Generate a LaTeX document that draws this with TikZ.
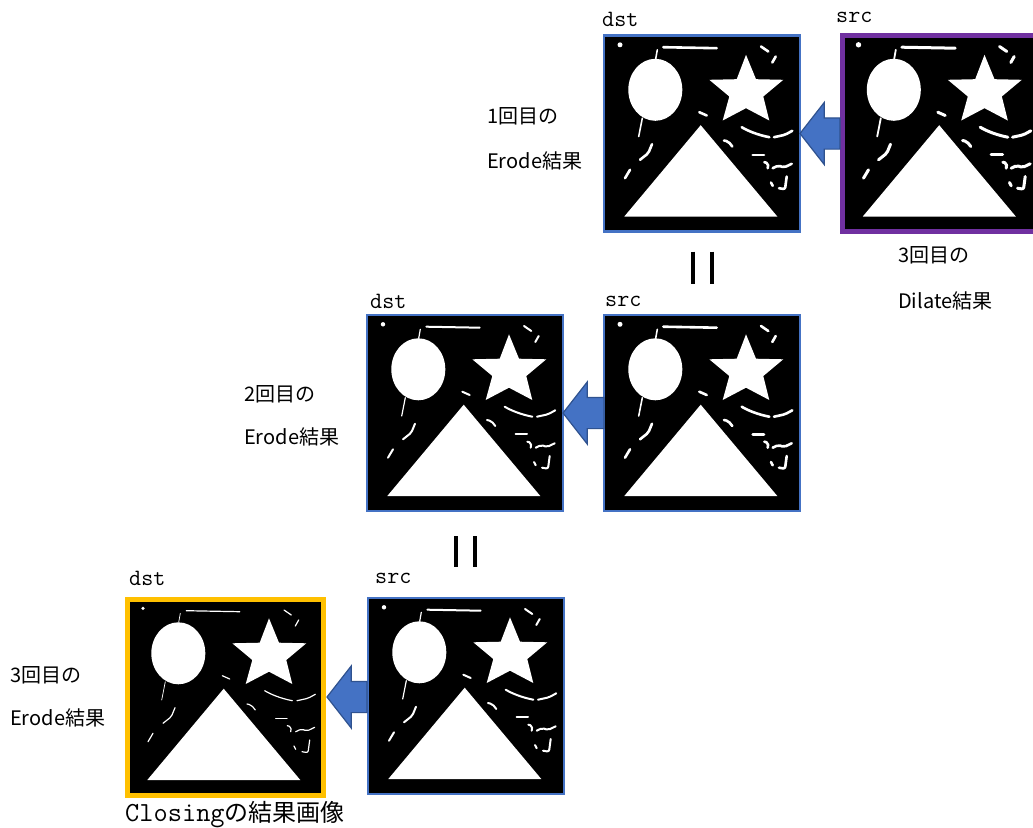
\documentclass[tikz,border=0pt]{standalone}
\usepackage{fontspec}
\newfontfamily\jpfont{Noto Sans CJK JP}
\usetikzlibrary{calc,shapes.arrows}
\definecolor{framebl}{HTML}{4472C4}
\definecolor{arrowbl}{HTML}{2F528F}
\definecolor{framepu}{HTML}{7030A0}
\definecolor{framego}{HTML}{FFC000}
\tikzset{
  frame/.style={draw=framebl,line width=2.4pt,fill=black,minimum size=196pt,inner sep=0pt,outer sep=0pt},
  blockarrow/.style={single arrow,draw=arrowbl,fill=framebl,line width=1.2pt,shape border rotate=180,anchor=tip,
    inner xsep=0pt,inner ysep=15pt,single arrow head extend=15.5pt,single arrow tip angle=104,outer sep=0pt},
  monolabel/.style={anchor=west,inner sep=0pt,font=\ttfamily\fontsize{23.4}{24}\selectfont},
  jplabel/.style={anchor=west,inner sep=0pt,font=\jpfont\fontsize{20}{22}\selectfont},
  bars/.style={line width=4pt},
  pics/binimage/.style={code={
    % filled shapes, relative to the frame centre
    \fill[white] (-46.7,-43.7) ellipse (27 and 31);
    \fill[white] (-1.3,-8.3) -- (-77.7,83) -- (75.3,83) -- cycle;
    \fill[white] (44,-78.7) -- (54,-54.3) -- (81.3,-53.7) -- (61.3,-37) -- (67.3,-13) -- (44,-25.3)
      -- (20.7,-13) -- (27.3,-37) -- (7.3,-53.7) -- (34.7,-54.3) -- cycle;
    \fill[white] (-82,-88.7) circle (1.2pt+#1*0.5pt);
    % small strokes around them
    \begin{scope}[white,line width=#1pt,line cap=round,line join=round,rounded corners=2pt]
      \draw (-38.7,-86.3) -- (14.7,-85.3);
      \draw[line width=0.6*#1pt] (-44.7,-83.7) -- (-46.3,-74.7);
      \draw[line width=0.6*#1pt] (-59.7,-15.3) -- (-63.3,3);
      \draw (59,-87) -- (66.3,-82);
      \draw (73.7,-77) -- (70.3,-71);
      \draw (-2.7,-21.3) -- (4.7,-18);
      \draw (39.7,-6.3) .. controls (46,-2.5) and (56,1.5) .. (67.3,3.7);
      \draw (72,3.7) -- (83,1.3) -- (90.3,-2.7);
      \draw (22,7) -- (26.3,8) -- (30.3,13);
      \draw (50.7,21.3) -- (62,21.3);
      \draw (62.3,28.7) -- (66.3,29.7) -- (65.7,34.7);
      \draw (70.7,34.7) -- (76.3,32) -- (82,34) -- (89.7,30.3);
      \draw (69,49) -- (70.7,52.3);
      \draw (77,54.7) -- (83,55.7) -- (84.7,43);
      \draw (-50,10.7) -- (-53.7,19.7) -- (-62,26.3);
      \draw (-72,36.3) -- (-77,44.7);
    \end{scope}
  }}
}
\begin{document}
\begin{tikzpicture}[x=1pt,y=-1pt]
  \useasboundingbox (0,0) rectangle (1033,827);
  % frames, top row to bottom row
  \node (srcA) [frame,draw=framepu,line width=5pt] at (940.5,133.5) {};
  \node (dstA) [frame] at (702,133.5) {};
  \node (srcB) [frame] at (702,413) {};
  \node (dstB) [frame] at (465,413) {};
  \node (srcC) [frame] at (466,696) {};
  \node (dstC) [frame,draw=framego,line width=5pt] at (225,697) {};
  \pic at (srcA) {binimage=3};
  \pic at (dstA) {binimage=2.6};
  \pic at (srcB) {binimage=2.6};
  \pic at (dstB) {binimage=2};
  \pic at (srcC) {binimage=2};
  \pic at (dstC) {binimage=1.2};
  % block arrows
  \node (arrA) [blockarrow,minimum height=40pt] at (dstA.east) {};
  \node (arrB) [blockarrow,minimum height=41pt] at (dstB.east) {};
  \node (arrC) [blockarrow,minimum height=40pt] at ($(dstC.east)+(4,0)$) {};
  % equal signs between rows
  \foreach \dx in {-9.5,9.5} {
    \draw[bars] ($(dstA.south)+(\dx,20)$) -- ($(dstA.south)+(\dx,52)$);
    \draw[bars] ($(dstB.south)+(\dx,25)$) -- ($(dstB.south)+(\dx,56)$);
  }
  % image names
  \node (lbDstA) [monolabel] at (602,19) {dst};
  \node (lbSrcA) [monolabel] at (836,17) {src};
  \node (lbDstB) [monolabel] at (370,301) {dst};
  \node (lbSrcB) [monolabel] at (605,301) {src};
  \node (lbDstC) [monolabel] at (129,578) {dst};
  \node (lbSrcC) [monolabel] at (375,578) {src};
  % captions
  \node (capA) [jplabel] at (487,116) {1回目の};
  \node (resA) [jplabel] at (487,161) {Erode結果};
  \node (capB) [jplabel] at (244,394) {2回目の};
  \node (resB) [jplabel] at (244,437) {Erode結果};
  \node (capC) [jplabel] at (10,675) {3回目の};
  \node (resC) [jplabel] at (10,718) {Erode結果};
  \node (capD) [jplabel] at (898,255) {3回目の};
  \node (resD) [jplabel] at (898,301) {Dilate結果};
  \node (result) [anchor=west,inner sep=0pt,font=\fontsize{24}{24}\selectfont] at (125,815) {{\ttfamily\fontsize{27.6}{28}\selectfont Closing}\jpfont の結果画像};
\end{tikzpicture}
\end{document}
